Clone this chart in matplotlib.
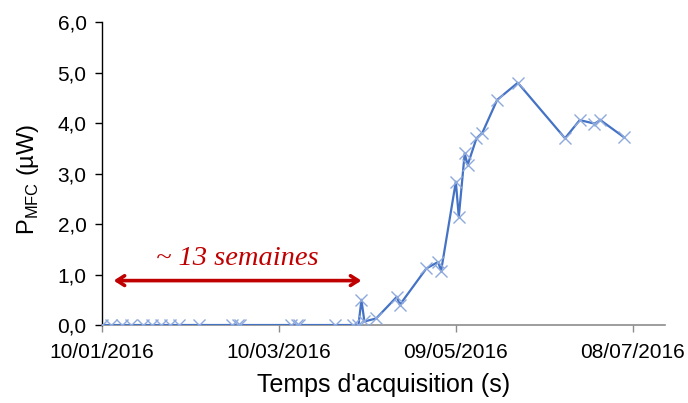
import matplotlib
matplotlib.use("Agg")
import matplotlib.pyplot as plt
import matplotlib.dates as mdates
from matplotlib.ticker import FuncFormatter, MultipleLocator
import datetime as dt

plt.rcParams['font.family'] = ['Liberation Sans', 'DejaVu Sans']
plt.rcParams['mathtext.fontset'] = 'custom'
plt.rcParams['mathtext.rm'] = 'Liberation Sans'

start = dt.date(2016, 1, 10)
# Days since 10/01/2016 and power values (µW)
day_offsets = [0, 3, 7, 10, 14, 17, 20, 23, 26, 33, 44, 46, 47, 64, 66, 67, 79, 85, 87,
               88, 89, 93, 100, 101, 110, 114, 115, 120, 121, 123, 124, 127, 129, 134,
               141, 157, 162, 167, 169, 177]
power = [0, 0, 0, 0, 0, 0, 0, 0, 0, 0, 0, 0, 0, 0, 0, 0, 0, 0, 0,
         0.50, 0.07, 0.13, 0.56, 0.40, 1.12, 1.25, 1.07, 2.84, 2.14, 3.40, 3.17, 3.70, 3.81, 4.46,
         4.80, 3.70, 4.06, 3.99, 4.06, 3.72]
tick_dates = ["10/01/2016", "10/03/2016", "09/05/2016", "08/07/2016"]
annotation = "~ 13 semaines"

dates = [start + dt.timedelta(days=d) for d in day_offsets]
ticks = [dt.datetime.strptime(s, "%d/%m/%Y").date() for s in tick_dates]

fig = plt.figure(figsize=(6.88, 4.03), dpi=100)
ax = fig.add_axes([0.148, 0.1935, 0.819, 0.7515])

ax.plot(dates, power, color='#4472C4', lw=1.6, marker='x', ms=9, mew=1.0,
        mec='#8EA9DB', zorder=3)

ax.set_ylim(0, 6)
ax.set_xlim(start, start + dt.timedelta(days=191))
ax.yaxis.set_major_locator(MultipleLocator(1))
ax.yaxis.set_major_formatter(FuncFormatter(lambda v, p: f"{v:.1f}".replace('.', ',')))
ax.set_xticks(ticks)
ax.xaxis.set_major_formatter(mdates.DateFormatter("%d/%m/%Y"))

for s in ['top', 'right']:
    ax.spines[s].set_visible(False)
ax.spines['left'].set_color('black')
ax.spines['left'].set_linewidth(1.0)
ax.spines['bottom'].set_color('#8c8c8c')
ax.spines['bottom'].set_linewidth(1.2)
ax.tick_params(axis='y', direction='out', length=5, width=1, color='black',
               labelsize=15, pad=6)
ax.tick_params(axis='x', direction='out', length=5, width=1, color='#8c8c8c',
               labelsize=15, pad=8)

ax.set_xlabel("Temps d'acquisition (s)", fontsize=18)
ax.xaxis.set_label_coords(0.5, -0.16)
ax.set_ylabel(r"P$_{\mathrm{MFC}}$ (µW)", fontsize=17)
ax.yaxis.set_label_coords(-0.108, 0.482)

# Arrow annotation
a0 = start + dt.timedelta(days=4)
a1 = start + dt.timedelta(days=88)
ax.annotate('', xy=(a1, 0.88), xytext=(a0, 0.88),
            arrowprops=dict(arrowstyle='<->,head_length=0.55,head_width=0.35',
                            color='#C00000', lw=2.6, shrinkA=0, shrinkB=0))
ax.text(start + dt.timedelta(days=46), 1.32, annotation, color='#C00000',
        fontsize=20.5, style='italic', family=['Liberation Serif', 'DejaVu Serif'],
        ha='center', va='center')

fig.savefig("out.png", dpi=100)
